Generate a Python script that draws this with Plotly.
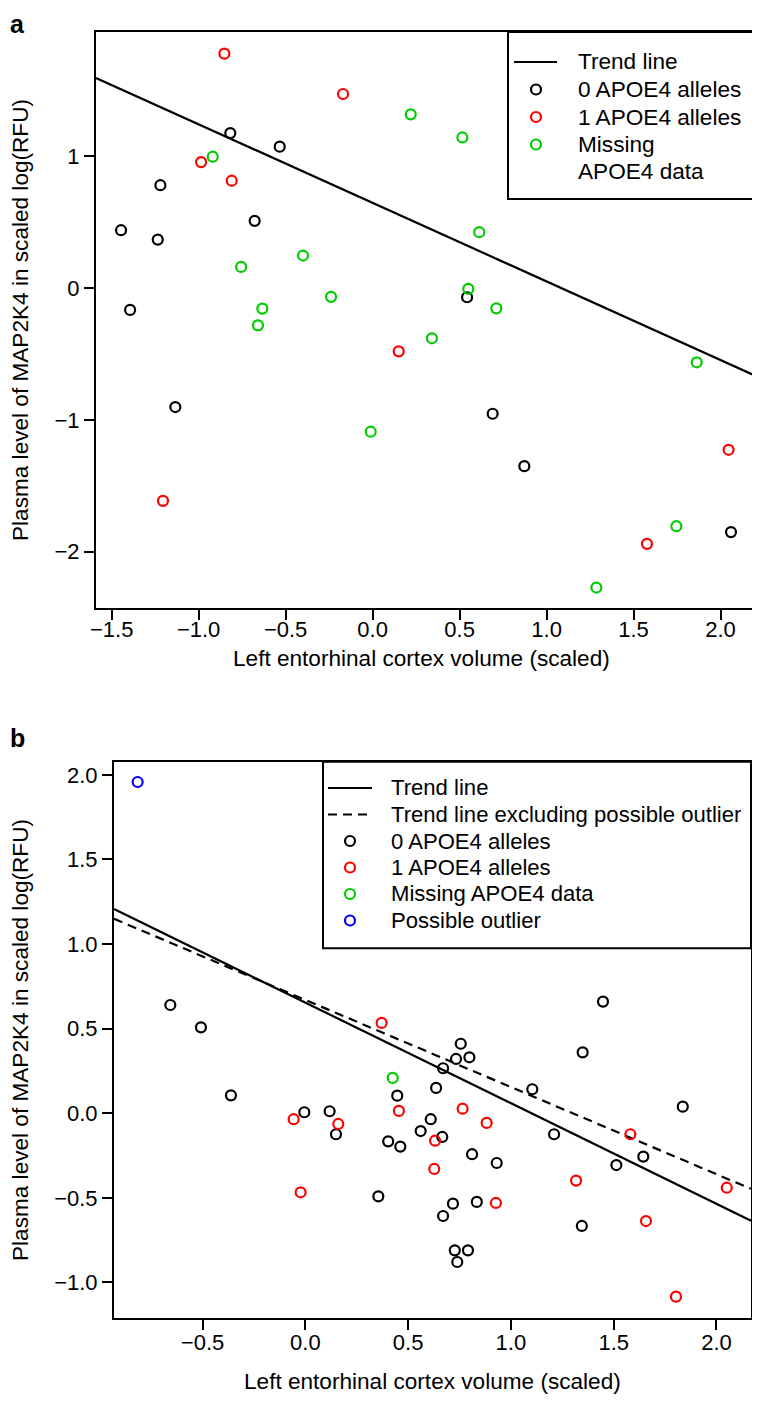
import plotly.graph_objects as go

# ---------------- Panel a data ----------------
a_x0 = [-1.446, -1.394, -1.235, -1.220, -1.134, -0.818, -0.678, -0.534, 0.543, 0.690, 0.872, 2.060]
a_y0 = [0.437, -0.167, 0.366, 0.778, -0.903, 1.173, 0.508, 1.070, -0.071, -0.954, -1.351, -1.851]

a_x1 = [-1.205, -0.986, -0.852, -0.810, -0.170, 0.150, 1.577, 2.046]
a_y1 = [-1.614, 0.953, 1.775, 0.812, 1.469, -0.481, -1.940, -1.227]

a_xm = [-0.919, -0.756, -0.659, -0.634, -0.400, -0.239, -0.011, 0.219, 0.341, 0.516,
        0.550, 0.613, 0.711, 1.286, 1.746, 1.863]
a_ym = [0.994, 0.159, -0.284, -0.157, 0.245, -0.068, -1.090, 1.315, -0.382, 1.140,
        -0.008, 0.422, -0.155, -2.271, -1.806, -0.564]

a_trend = (0.644, -0.5954)   # intercept, slope

# ---------------- Panel b data ----------------
b_x0 = [-0.657, -0.508, -0.362, -0.005, 0.118, 0.149, 0.355, 0.403, 0.447, 0.462,
        0.561, 0.610, 0.636, 0.666, 0.670, 0.670, 0.718, 0.727, 0.733, 0.739,
        0.756, 0.791, 0.798, 0.811, 0.834, 0.931, 1.104, 1.210, 1.345, 1.349,
        1.448, 1.513, 1.644, 1.836]
b_y0 = [0.640, 0.508, 0.106, 0.006, 0.012, -0.124, -0.491, -0.166, 0.104, -0.197,
        -0.105, -0.035, 0.150, -0.140, 0.266, -0.607, -0.534, -0.810, 0.321, -0.879,
        0.411, -0.810, 0.331, -0.242, -0.524, -0.294, 0.142, -0.124, -0.666, 0.360,
        0.660, -0.306, -0.256, 0.039]

b_x1 = [-0.057, -0.023, 0.160, 0.371, 0.455, 0.627, 0.631, 0.765, 0.882, 0.927,
        1.317, 1.581, 1.657, 1.803, 2.050]
b_y1 = [-0.035, -0.467, -0.063, 0.534, 0.014, -0.329, -0.162, 0.027, -0.057, -0.530,
        -0.398, -0.124, -0.637, -1.084, -0.440]

b_xm = [0.425]
b_ym = [0.209]

b_xo = [-0.816]
b_yo = [1.958]

b_trend = (0.654, -0.5944)       # intercept, slope (all points)
b_trend_ex = (0.670, -0.515)     # intercept, slope (excluding possible outlier)

# ---------------- Axis settings ----------------
a_xrange = [-1.59, 2.198]
a_yrange = [-2.426, 1.939]
b_xrange = [-0.931, 2.168]
b_yrange = [-1.210, 2.078]

a_xticks = [-1.5, -1.0, -0.5, 0.0, 0.5, 1.0, 1.5, 2.0]
a_yticks = [-2, -1, 0, 1]
b_xticks = [-0.5, 0.0, 0.5, 1.0, 1.5, 2.0]
b_yticks = [-1.0, -0.5, 0.0, 0.5, 1.0, 1.5, 2.0]

# ---------------- Legend entries ----------------
a_legend = [("line", "solid", "Trend line"),
            ("marker", "#000000", "0 APOE4 alleles"),
            ("marker", "#FF0000", "1 APOE4 alleles"),
            ("marker", "#00CD00", "Missing"),
            (None, None, "APOE4 data")]
b_legend = [("line", "solid", "Trend line"),
            ("line", "dash", "Trend line excluding possible outlier"),
            ("marker", "#000000", "0 APOE4 alleles"),
            ("marker", "#FF0000", "1 APOE4 alleles"),
            ("marker", "#00CD00", "Missing APOE4 data"),
            ("marker", "#0000FF", "Possible outlier")]

BLACK = "#000000"
RED = "#FF0000"
GREEN = "#00CD00"
BLUE = "#0000FF"
FONT = "Liberation Sans, Arial, sans-serif"
FS = 22.6
LW = 2.2
DASH = "9px,6px"

# The page has an 8px body margin; the figure is sized/shifted to fit the window.
OFF = 8
W, H = 760 - OFF, 1405 - OFF


def py(p):
    """page pixel y -> paper fraction"""
    return 1 - (p - OFF) / H


def px_(p):
    """page pixel x -> paper fraction"""
    return (p - OFF) / W


def line_pts(rng, coef):
    xs = list(rng)
    ys = [coef[0] + coef[1] * v for v in xs]
    return xs, ys


def mk(x, y, color, name, xa, ya):
    return go.Scatter(x=x, y=y, mode="markers", name=name, xaxis=xa, yaxis=ya,
                      showlegend=False,
                      marker=dict(symbol="circle-open", size=10, color=color,
                                  line=dict(width=LW, color=color)))


fig = go.Figure()

# Panel a
lx, ly = line_pts(a_xrange, a_trend)
fig.add_trace(go.Scatter(x=lx, y=ly, mode="lines", name="Trend line", xaxis="x", yaxis="y",
                         showlegend=False, line=dict(color=BLACK, width=LW)))
fig.add_trace(mk(a_x0, a_y0, BLACK, "0 APOE4 alleles", "x", "y"))
fig.add_trace(mk(a_x1, a_y1, RED, "1 APOE4 alleles", "x", "y"))
fig.add_trace(mk(a_xm, a_ym, GREEN, "Missing APOE4 data", "x", "y"))

# Panel b
lx, ly = line_pts(b_xrange, b_trend)
fig.add_trace(go.Scatter(x=lx, y=ly, mode="lines", name="Trend line", xaxis="x2", yaxis="y2",
                         showlegend=False, line=dict(color=BLACK, width=LW)))
lx, ly = line_pts(b_xrange, b_trend_ex)
fig.add_trace(go.Scatter(x=lx, y=ly, mode="lines", name="Trend line excluding possible outlier",
                         xaxis="x2", yaxis="y2", showlegend=False,
                         line=dict(color=BLACK, width=LW, dash=DASH)))
fig.add_trace(mk(b_x0, b_y0, BLACK, "0 APOE4 alleles", "x2", "y2"))
fig.add_trace(mk(b_x1, b_y1, RED, "1 APOE4 alleles", "x2", "y2"))
fig.add_trace(mk(b_xm, b_ym, GREEN, "Missing APOE4 data", "x2", "y2"))
fig.add_trace(mk(b_xo, b_yo, BLUE, "Possible outlier", "x2", "y2"))


def axis(domain, rng, ticks, fmt, anchor, standoff):
    return dict(domain=domain, range=rng, tickvals=ticks, tickformat=fmt, anchor=anchor,
                ticks="outside", ticklen=10, tickwidth=2, tickcolor=BLACK,
                showline=True, linewidth=2, linecolor=BLACK, mirror=True,
                showgrid=False, zeroline=False, automargin=False,
                ticklabelstandoff=standoff,
                tickfont=dict(family=FONT, size=22, color=BLACK))


shapes = []
annotations = []


def draw_legend(entries, box, row0, step, line_x, mark_x, text_x, fs):
    x0, y0, x1, y1 = box
    shapes.append(dict(type="rect", xref="paper", yref="paper",
                       x0=px_(x0), x1=px_(x1), y0=py(y1), y1=py(y0),
                       line=dict(color=BLACK, width=2), fillcolor="white", layer="above"))
    r = 5
    for i, (kind, sty, label) in enumerate(entries):
        yc = row0 + i * step
        if kind == "line":
            shapes.append(dict(type="line", xref="paper", yref="paper",
                               x0=px_(line_x[0]), x1=px_(line_x[1]), y0=py(yc), y1=py(yc),
                               line=dict(color=BLACK, width=LW,
                                         dash=("solid" if sty == "solid" else DASH))))
        elif kind == "marker":
            shapes.append(dict(type="circle", xref="paper", yref="paper",
                               x0=px_(mark_x - r), x1=px_(mark_x + r),
                               y0=py(yc + r), y1=py(yc - r),
                               line=dict(color=sty, width=LW)))
        annotations.append(dict(text=label, xref="paper", yref="paper",
                                x=px_(text_x), y=py(yc), showarrow=False,
                                xanchor="left", yanchor="middle",
                                font=dict(family=FONT, size=fs, color=BLACK)))


draw_legend(a_legend, (508, 32, 755, 199), 62, 27.5, (514, 557), 536, 576, FS)
draw_legend(b_legend, (323, 761.7, 751, 948.3), 788, 26.5, (328, 372), 350, 389, 22.1)

annotations += [
    dict(text="Left entorhinal cortex volume (scaled)", xref="paper", yref="paper",
         x=px_(422), y=py(659), showarrow=False, xanchor="center", yanchor="middle",
         font=dict(family=FONT, size=FS, color=BLACK)),
    dict(text="Left entorhinal cortex volume (scaled)", xref="paper", yref="paper",
         x=px_(432), y=py(1381), showarrow=False, xanchor="center", yanchor="middle",
         font=dict(family=FONT, size=FS, color=BLACK)),
    dict(text="Plasma level of MAP2K4 in scaled log(RFU)", xref="paper", yref="paper",
         x=px_(20), y=py(320), showarrow=False, textangle=-90,
         xanchor="center", yanchor="middle",
         font=dict(family=FONT, size=FS, color=BLACK)),
    dict(text="Plasma level of MAP2K4 in scaled log(RFU)", xref="paper", yref="paper",
         x=px_(20), y=py(1040), showarrow=False, textangle=-90,
         xanchor="center", yanchor="middle",
         font=dict(family=FONT, size=FS, color=BLACK)),
    dict(text="<b>a</b>", xref="paper", yref="paper", x=px_(8), y=1,
         showarrow=False, xanchor="left", yanchor="top",
         font=dict(family=FONT, size=25, color=BLACK)),
    dict(text="<b>b</b>", xref="paper", yref="paper", x=px_(8), y=py(738),
         showarrow=False, xanchor="left", yanchor="middle",
         font=dict(family=FONT, size=25, color=BLACK)),
]

fig.update_layout(
    width=W, height=H, margin=dict(l=0, r=0, t=0, b=0, autoexpand=False),
    paper_bgcolor="white", plot_bgcolor="white", showlegend=False,
    xaxis=axis([px_(96), px_(755)], a_xrange, a_xticks, ".1f", "y", -9),
    yaxis=axis([py(608), py(32)], a_yrange, a_yticks, "d", "x", 0),
    xaxis2=axis([px_(114), px_(751)], b_xrange, b_xticks, ".1f", "y2", -6),
    yaxis2=axis([py(1318), py(761.7)], b_yrange, b_yticks, ".1f", "x2", 0),
    shapes=shapes,
    annotations=annotations,
)

fig.write_html("out.html")
